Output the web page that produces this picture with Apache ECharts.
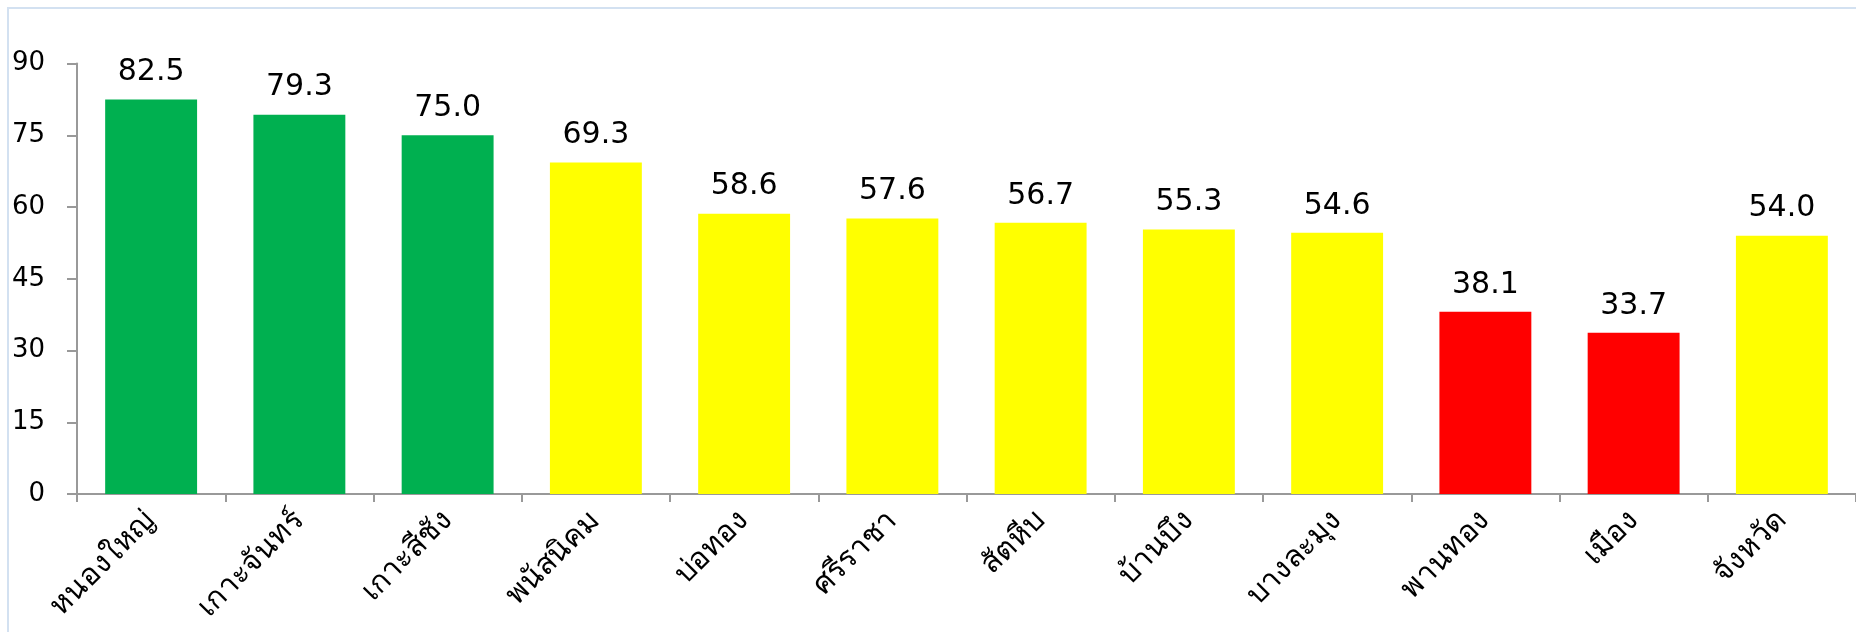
<!DOCTYPE html>
<html>
<head>
<meta charset="utf-8">
<script src="https://cdn.jsdelivr.net/npm/echarts@6/dist/echarts.min.js"></script>
<style>
html,body{margin:0;padding:0;background:#fff;}
#c{width:1856px;height:632px;}
</style>
</head>
<body>
<div id="c"></div>
<script>
const categories = ['หนองใหญ่','เกาะจันทร์','เกาะสีชัง','พนัสนิคม','บ่อทอง','ศรีราชา','สัตหีบ','บ้านบึง','บางละมุง','พานทอง','เมือง','จังหวัด'];
const values = [82.5, 79.3, 75.0, 69.3, 58.6, 57.6, 56.7, 55.3, 54.6, 38.1, 33.7, 54.0];
const barColors = ['#00B050','#00B050','#00B050','#FFFF00','#FFFF00','#FFFF00','#FFFF00','#FFFF00','#FFFF00','#FF0000','#FF0000','#FFFF00'];
const yTicks = [0, 15, 30, 45, 60, 75, 90];

const chart = echarts.init(document.getElementById('c'), null, {renderer:'canvas'});
const font = '"DejaVu Sans", Verdana, Tahoma, sans-serif';
chart.setOption({
  backgroundColor: '#fff',
  animation: false,
  graphic: [{
    type: 'rect', silent: true,
    shape: {x: 8, y: 8, width: 1900, height: 700},
    style: {fill: 'none', stroke: '#d3e1f1', lineWidth: 2}
  }],
  grid: {left: 77, right: -7, top: 63.5, bottom: 138, containLabel: false},
  xAxis: {
    type: 'category',
    data: categories,
    axisLine: {lineStyle: {color: '#999', width: 2}},
    axisTick: {show: true, length: 8, lineStyle: {color: '#999', width: 2}},
    axisLabel: {rotate: 45, margin: 22, fontSize: 30, color: '#000', fontFamily: font, interval: 0}
  },
  yAxis: {
    type: 'value',
    min: yTicks[0], max: yTicks[yTicks.length-1], interval: 15,
    axisLine: {show: true, lineStyle: {color: '#999', width: 2}},
    axisTick: {show: true, inside: false, length: 10, lineStyle: {color: '#999', width: 2}},
    splitLine: {show: false},
    axisLabel: {margin: 32, fontSize: 26, color: '#000', fontFamily: font}
  },
  series: [{
    type: 'bar',
    data: values.map((v, i) => ({value: v, itemStyle: {color: barColors[i]}})),
    barCategoryGap: '38%',
    label: {
      show: true, position: 'top', distance: 12,
      fontSize: 30, color: '#000', fontFamily: font,
      formatter: p => p.value.toFixed(1)
    }
  }]
});
</script>
</body>
</html>
